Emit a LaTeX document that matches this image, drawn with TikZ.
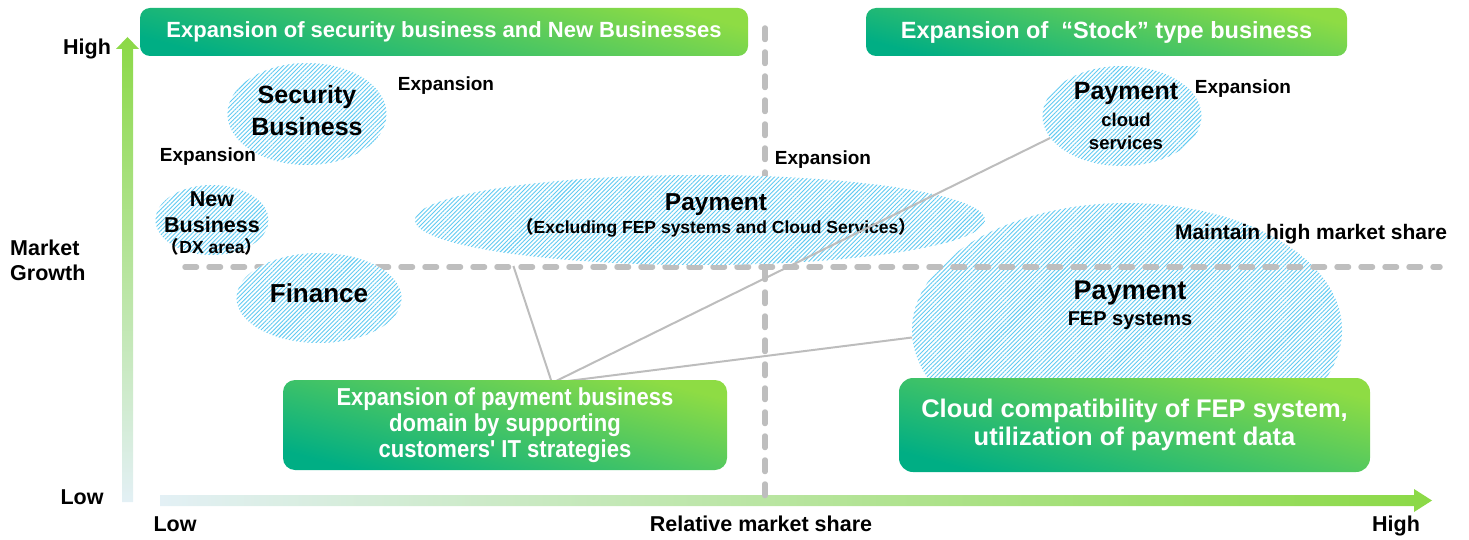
\documentclass[tikz,border=0pt]{standalone}
\usepackage{fontspec}
\setmainfont{Liberation Sans}
\newfontfamily\narrowsf{Liberation Sans}[FakeStretch=0.9]
\newfontfamily\cjkfont{Noto Sans CJK JP}
\usetikzlibrary{shapes.geometric,patterns.meta}
\tikzset{
	hatch/.style={ellipse, inner sep=0pt, preaction={fill=white},
		pattern={Lines[angle=45,distance=3pt,line width=0.9pt]}, pattern color=hatchBlue},
	greenbox/.style={rounded corners=10pt, top color=boxLime, bottom color=boxTeal,
		shading angle=-15, text=white, inner sep=0pt},
	lbl/.style={inner sep=0pt, font=\bfseries\fs{19}},
	axlbl/.style={inner sep=0pt, font=\bfseries\fs{21.5}},
	quaddash/.style={line width=5.5pt, draw=dashGray, dash pattern=on 11.5pt off 12.5pt, line cap=round},
	link/.style={draw=linkGray, line width=2pt}
}
\definecolor{boxTeal}{HTML}{00AE84}
\definecolor{boxLime}{HTML}{8EDC44}
\definecolor{hatchBlue}{HTML}{62CBF2}
\definecolor{dashGray}{HTML}{BEBEBE}
\definecolor{linkGray}{HTML}{BDBDBD}
\definecolor{axPale}{HTML}{E3F0F5}
\definecolor{axGreen}{HTML}{8BD946}
\newcommand{\fs}[1]{\fontsize{#1}{1.15\dimexpr#1pt\relax}\selectfont}
\newcommand{\fwp}[1]{{\cjkfont #1}}

\begin{document}
\begin{tikzpicture}[x=1pt, y=-1pt]
	\useasboundingbox (0,0) rectangle (1469,540);
	% axes
	\shade[bottom color=axPale, top color=axGreen] (122,502) -- (122,49) -- (116,49) -- (127.5,37) -- (139,49) -- (133,49) -- (133,502) -- cycle;
	\shade[left color=axPale, right color=axGreen] (160,495) -- (1414,495) -- (1414,489) -- (1432,500.5) -- (1414,512) -- (1414,506) -- (160,506) -- cycle;
	% FEP ellipse sits under the dashed lines
	\node[hatch, minimum width=430pt, minimum height=254pt] (payfep) at (1127,330) {};
	\draw[quaddash] (765,28) -- (765,500);
	\draw[quaddash] (185,267) -- (1440,267);
	\node[hatch, minimum width=159pt, minimum height=102pt] (security) at (307,114) {};
	\node[hatch, minimum width=113pt, minimum height=70pt] (newbiz) at (212,220) {};
	\node[hatch, minimum width=165pt, minimum height=90pt] (finance) at (319,298) {};
	\node[hatch, minimum width=570pt, minimum height=90pt] (payex) at (700,220) {};
	\node[hatch, minimum width=159pt, minimum height=100pt] (paycloud) at (1122,116) {};
	% texts in the ellipses
	\node[font=\bfseries\fs{25}] (security1) at (307,97) {Security};
	\node[font=\bfseries\fs{25}] (security2) at (307,127) {Business};
	\node[font=\bfseries\fs{21.5}] (newbiz1) at (212,199) {New};
	\node[font=\bfseries\fs{21.5}] (newbiz2) at (212,225) {Business};
	\node[font=\bfseries\fs{17.5}] (newbiz3) at (212,247) {\fwp{（}DX area\fwp{）}};
	\node[font=\bfseries\fs{26}] (finance1) at (319,293) {Finance};
	\node[font=\bfseries\fs{24.5}] (payex1) at (716,205) {Payment};
	\node[font=\bfseries\fs{17.5}] (payex2) at (716,228) {\fwp{（}Excluding FEP systems and Cloud Services\fwp{）}};
	\node[font=\bfseries\fs{25}] (paycloud1) at (1126,93) {Payment};
	\node[font=\bfseries\fs{18.5}] (paycloud2) at (1126,120) {cloud};
	\node[font=\bfseries\fs{18.5}] (paycloud3) at (1126,143) {services};
	\node[font=\bfseries\fs{27}] (payfep1) at (1130,293) {Payment};
	\node[font=\bfseries\fs{20}] (payfep2) at (1130,321) {FEP systems};
	% small labels
	\node[lbl] (exp1) at (446,86) {Expansion};
	\node[lbl] (exp2) at (208,157) {Expansion};
	\node[lbl] (exp3) at (823,160) {Expansion};
	\node[lbl] (exp4) at (1243,89) {Expansion};
	\node[lbl, font=\bfseries\fs{21}] (keep) at (1311,234) {Maintain high market share};
	% axis labels
	\node[axlbl] (yhigh) at (87,49) {High};
	\node[axlbl, anchor=west, align=left] (ygrowth) at (10,260) {Market\\Growth};
	\node[axlbl] (ylow) at (82,497) {Low};
	\node[axlbl] (xlow) at (175,524) {Low};
	\node[axlbl] (xshare) at (761,524) {Relative market share};
	\node[axlbl] (xhigh) at (1396,526) {High};
	% links from the lower left box
	\coordinate (hub) at (552,383);
	\draw[link, shorten >=13pt] (hub) -- (payex.190);
	\draw[link] (hub) -- (paycloud.197);
	\draw[link] (hub) -- (payfep.182);
	% banners and boxes
	\node[greenbox, minimum width=608pt, minimum height=48pt, font=\bfseries\fs{22}] (bannerL) at (444,32) {Expansion of security business and New Businesses};
	\node[greenbox, minimum width=481pt, minimum height=48pt, font=\bfseries\fs{23.5}] (bannerR) at (1106.5,32) {Expansion of \ “Stock” type business};
	\node[greenbox, rounded corners=12pt, minimum width=444pt, minimum height=90pt, align=center, font=\narrowsf\bfseries\fontsize{24.5}{26}\selectfont] (boxL) at (505,425) {Expansion of payment business\\domain by supporting\\customers{\char"27} IT strategies};
	\node[greenbox, rounded corners=14pt, minimum width=471pt, minimum height=94pt, align=center, font=\bfseries\fontsize{25.5}{28}\selectfont] (boxR) at (1134.5,425) {Cloud compatibility of FEP system,\\utilization of payment data};
\end{tikzpicture}
\end{document}
